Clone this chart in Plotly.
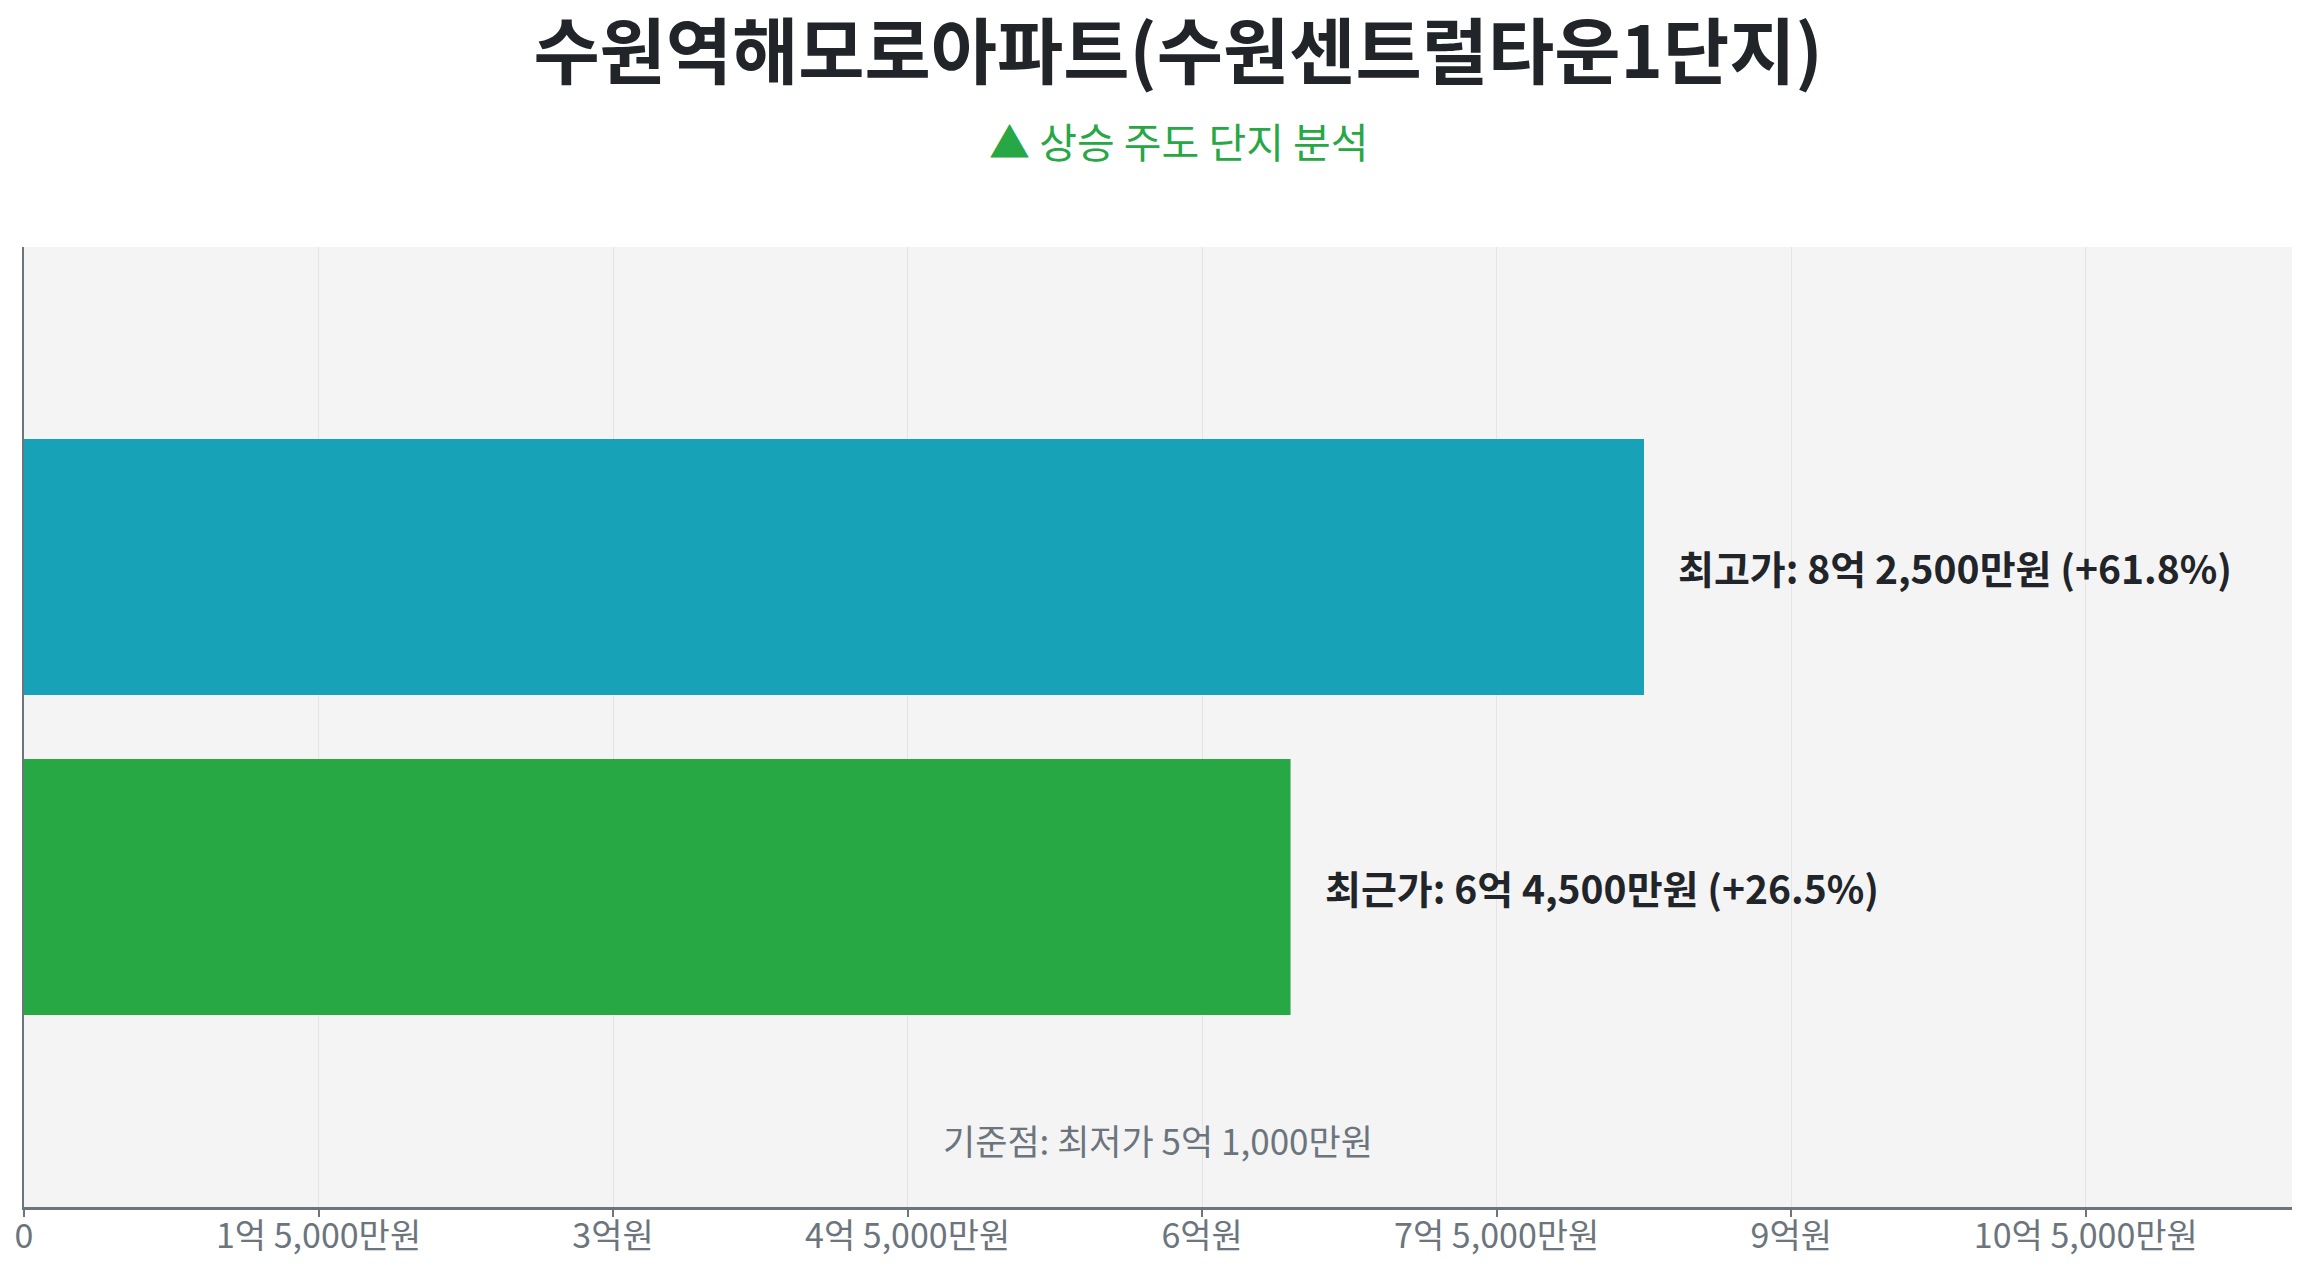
import plotly.graph_objects as go

# 가격 (단위: 만원)
labels = ["최근가", "최고가"]
prices = [64500, 82500]
bar_colors = ["#28a745", "#17a2b8"]
base_price = 51000

tick_vals = [0, 15000, 30000, 45000, 60000, 75000, 90000, 105000]
tick_text = ["0", "1억 5,000만원", "3억원", "4억 5,000만원", "6억원",
             "7억 5,000만원", "9억원", "10억 5,000만원"]

title_text = "수원역해모로아파트(수원센트럴타운1단지)"
subtitle_text = "▲ 상승 주도 단지 분석"

FONT = "Noto Sans CJK KR"

# page body has an 8px margin, so the figure is a bit smaller than the window
W, H = 2291, 1253


def fmt_price(v):
    eok, man = divmod(v, 10000)
    if man == 0:
        return f"{eok}억원"
    return f"{eok}억 {man:,}만원"


fig = go.Figure()
fig.add_trace(go.Bar(
    x=prices,
    y=[0, 1],
    orientation="h",
    marker=dict(color=bar_colors, line=dict(width=0)),
    width=0.8,
    hoverinfo="skip",
))

# bar labels
for i, (name, v) in enumerate(zip(labels, prices)):
    pct = (v / base_price - 1) * 100
    fig.add_annotation(
        x=v, y=i, xref="x", yref="y",
        text=f"<b>{name}: {fmt_price(v)} (+{pct:.1f}%)</b>",
        showarrow=False, xanchor="left", yanchor="middle", xshift=32,
        font=dict(family=FONT, size=39, color="#212529"),
    )

fig.add_annotation(
    x=0.5, y=0.07, xref="paper", yref="paper",
    text=f"기준점: 최저가 {fmt_price(base_price)}",
    showarrow=False, xanchor="center", yanchor="middle",
    font=dict(family=FONT, size=35, color="#6c757d"),
)

fig.add_annotation(
    x=0.5094, y=1.111, xref="paper", yref="paper",
    text=subtitle_text,
    showarrow=False, xanchor="center", yanchor="middle",
    font=dict(family=FONT, size=41, color="#28a745"),
)

fig.update_layout(
    title=dict(
        text=f"<b>{title_text}</b>",
        x=1170 / W, xanchor="center", y=1 - 45 / H, yanchor="middle",
        font=dict(family=FONT, size=72, color="#212529"),
    ),
    width=W, height=H,
    margin=dict(l=16, r=7, t=239, b=54),
    paper_bgcolor="white",
    plot_bgcolor="#f4f4f4",
    showlegend=False,
    font=dict(family=FONT),
)

fig.update_xaxes(
    range=[0, max(prices) * 1.4],
    tickvals=tick_vals, ticktext=tick_text,
    tickfont=dict(family=FONT, size=34, color="#6c757d"),
    showgrid=True, gridcolor="#e4e4e4", gridwidth=1,
    showline=True, linecolor="#6c757d", linewidth=3,
    ticks="outside", ticklen=7, tickcolor="#6c757d", tickwidth=2,
    ticklabelstandoff=-10,
    zeroline=False, fixedrange=True, automargin=False,
)
fig.update_yaxes(
    range=[-1, 2],
    showticklabels=False, showgrid=False, zeroline=False,
    showline=True, linecolor="#6c757d", linewidth=2,
    fixedrange=True, automargin=False,
)

fig.write_html("out.html", config={"displayModeBar": False})
